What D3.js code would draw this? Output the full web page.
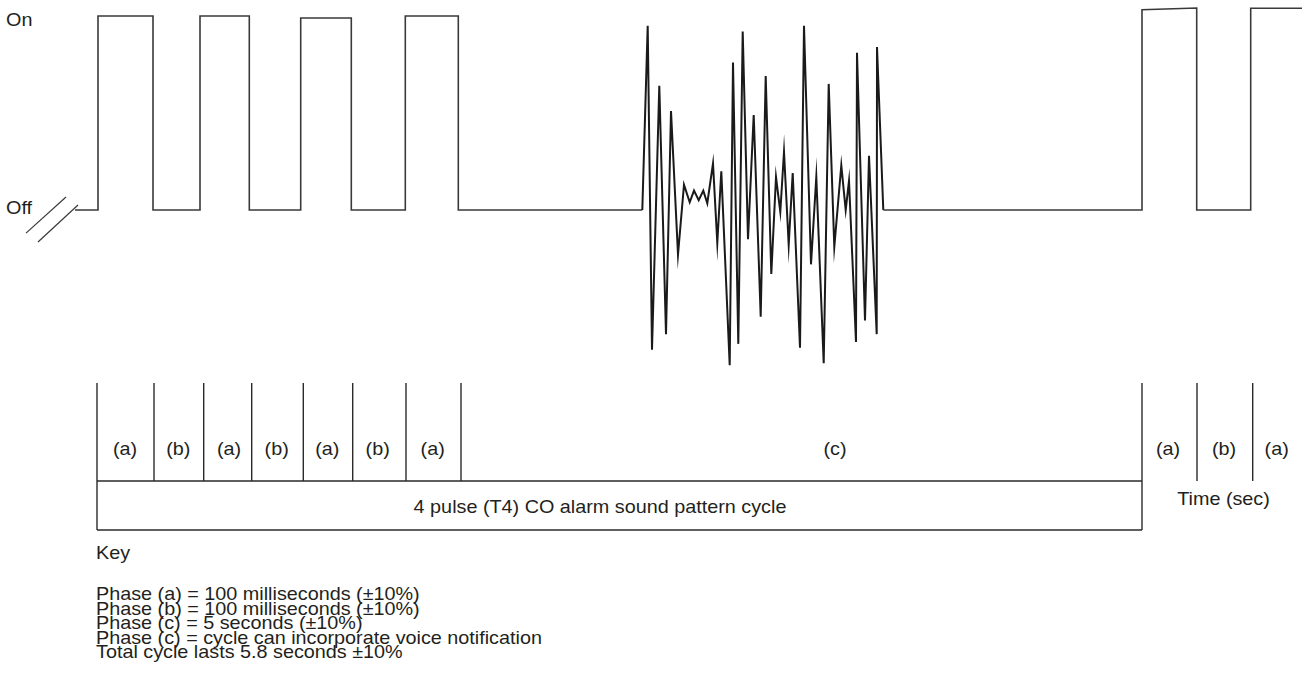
<!DOCTYPE html>
<html>
<head>
<meta charset="utf-8">
<script src="https://cdn.jsdelivr.net/npm/d3@7"></script>
<style>
  html, body { margin: 0; padding: 0; background: #fff; }
  svg { display: block; }
  text { font-family: "Liberation Sans", Arial, Helvetica, sans-serif; fill: #231f20; }
</style>
</head>
<body>
<svg id="chart" width="1302" height="693"></svg>
<script>
// ---------------- DATA ----------------
// Signal levels (y): Off = 0, On = 1
const levelLabels = ["Off", "On"];

// Pulse edges in schematic time units
const offStart = 7.5;
const pulseRise   = [9.8, 20.0, 30.07, 40.53, 114.2, 125.07];
const pulseFall   = [15.3, 24.93, 35.13, 45.83, 119.67, 130.4];
const pulseTopL   = [1.0, 1.0, 0.99, 1.0, 1.032, 1.04];
const pulseTopR   = [1.0, 1.0, 0.99, 1.0, 1.041, 1.04];

// Noise burst (voice notification) during phase (c)
const noiseT = [64.23, 64.77, 65.2, 65.93, 66.6, 67.1, 67.8, 68.4, 68.97, 69.4, 69.87, 70.33, 70.73,
                71.3, 71.73, 72.13, 72.97, 73.3, 73.83, 74.27, 74.8, 75.37, 76.07, 76.57, 77.13, 77.6,
                78.03, 78.4, 78.87, 79.27, 80.0, 80.4, 81.1, 81.63, 82.37, 82.87, 83.43, 84.13, 84.57,
                84.9, 85.6, 85.7, 86.5, 86.9, 87.67, 87.7, 88.33];
const noiseLevel = [0, 0.95, -0.72, 0.64, -0.64, 0.51, -0.23, 0.13, 0.04, 0.10, 0.05, 0.10, 0.035,
                    0.24, -0.17, 0.20, -0.80, 0.76, -0.69, 0.92, -0.15, 0.49, -0.55, 0.69, -0.33, 0.17,
                    -0.01, 0.30, -0.18, 0.19, -0.71, 0.95, -0.28, 0.17, -0.79, 0.65, -0.19, 0.23, 0,
                    0.15, -0.68, 0.81, -0.57, 0.28, -0.64, 0.84, 0];

// Axis break marks (two slashes)
const breakT0 = [2.6, 3.8];
const breakL0 = [-0.119, -0.165];
const breakT1 = [6.6, 7.8];
const breakL1 = [0.067, 0.026];

// Phase boundaries and labels
const phaseBounds = [9.7, 15.4, 20.37, 25.17, 30.33, 35.27, 40.6, 46.1, 114.2, 119.7, 125.27];
const phaseNames  = ["(a)", "(b)", "(a)", "(b)", "(a)", "(b)", "(a)", "(c)", "(a)", "(b)", "(a)"];
const phaseLabelT = [12.5, 17.83, 22.9, 27.67, 32.73, 37.77, 43.27, 83.5, 116.8, 122.4, 127.67];
const cycleTitleT = 60.0;

const cycleTitle = "4 pulse (T4) CO alarm sound pattern cycle";
const timeLabel = "Time (sec)";
const keyTitle = "Key";
const keyLines = [
  "Phase (a) = 100 milliseconds (\u00B110%)",
  "Phase (b) = 100 milliseconds (\u00B110%)",
  "Phase (c) = 5 seconds (\u00B110%)",
  "Phase (c) = cycle can incorporate voice notification",
  "Total cycle lasts 5.8 seconds \u00B110%"
];

// ---------------- DRAW ----------------
const svg = d3.select("#chart");
const x = d3.scaleLinear().domain([0, 130.2]).range([0, 1302]);
const y = d3.scaleLinear().domain([0, 1]).range([210, 16]);

const FS = 18, SX = 1.1;
function label(g, str, px, py, anchor) {
  return g.append("text")
    .attr("transform", `translate(${px},${py}) scale(${SX},1)`)
    .attr("text-anchor", anchor || "start")
    .style("font-size", FS + "px")
    .text(str);
}

// Build square-wave signal points
const sig = [];
sig.push([offStart, 0]);
for (let i = 0; i < 4; i++) {
  sig.push([pulseRise[i], 0], [pulseRise[i], pulseTopL[i]], [pulseFall[i], pulseTopR[i]], [pulseFall[i], 0]);
}
noiseT.forEach((t, i) => sig.push([t, noiseLevel[i]]));
for (let i = 4; i < 6; i++) {
  sig.push([pulseRise[i], 0], [pulseRise[i], pulseTopL[i]], [pulseFall[i], pulseTopR[i]]);
  if (i < 5) sig.push([pulseFall[i], 0]);
}

const line = d3.line().x(d => x(d[0])).y(d => y(d[1]));

const firstNoise = 1 + 4 * 4;
const lastNoise = firstNoise + noiseT.length - 1;
svg.append("path")
  .attr("d", line(sig.slice(0, firstNoise + 1)))
  .attr("fill", "none").attr("stroke", "#3a3a3a").attr("stroke-width", 1.6);
svg.append("path")
  .attr("d", line(sig.slice(firstNoise, lastNoise + 1)))
  .attr("fill", "none").attr("stroke", "#1a1a1a").attr("stroke-width", 2)
  .attr("stroke-linejoin", "miter").attr("stroke-miterlimit", 20);
svg.append("path")
  .attr("d", line(sig.slice(lastNoise)))
  .attr("fill", "none").attr("stroke", "#3a3a3a").attr("stroke-width", 1.6);

// Break marks
breakT0.forEach((t, i) => {
  svg.append("line")
    .attr("x1", x(t)).attr("y1", y(breakL0[i]))
    .attr("x2", x(breakT1[i])).attr("y2", y(breakL1[i]))
    .attr("stroke", "#3a3a3a").attr("stroke-width", 1.2);
});

// Level labels
label(svg, levelLabels[1], 6, y(1) + 10);
label(svg, levelLabels[0], 6, y(0) + 3.5);

// Phase section
const phaseTop = 383, phaseBottom = 481, boxBottom = 530;
const phaseG = svg.append("g").attr("stroke", "#2a2a2a").attr("stroke-width", 1.4);
phaseBounds.forEach((t, i) => {
  const isBoxEdge = (i === 0 || i === 8);
  phaseG.append("line")
    .attr("x1", x(t)).attr("x2", x(t))
    .attr("y1", phaseTop).attr("y2", isBoxEdge ? boxBottom : phaseBottom);
});
phaseG.append("line").attr("x1", x(phaseBounds[0])).attr("x2", x(phaseBounds[8]))
  .attr("y1", phaseBottom).attr("y2", phaseBottom);
phaseG.append("line").attr("x1", x(phaseBounds[0])).attr("x2", x(phaseBounds[8]))
  .attr("y1", boxBottom).attr("y2", boxBottom);

phaseNames.forEach((n, i) => label(svg, n, x(phaseLabelT[i]), 455, "middle"));

label(svg, cycleTitle, x(cycleTitleT), 513, "middle");
label(svg, timeLabel, 1223.5, 505, "middle");

// Key: title plus one multi-line text block with tight leading (as in the reference)
label(svg, keyTitle, 96, 559);
const keyBlock = svg.append("text")
  .attr("transform", `translate(96,600) scale(${SX},1)`)
  .style("font-size", FS + "px");
keyBlock.selectAll("tspan").data(keyLines).join("tspan")
  .attr("x", 0)
  .attr("y", (d, i) => i * 14.6)
  .text(d => d);
</script>
</body>
</html>
